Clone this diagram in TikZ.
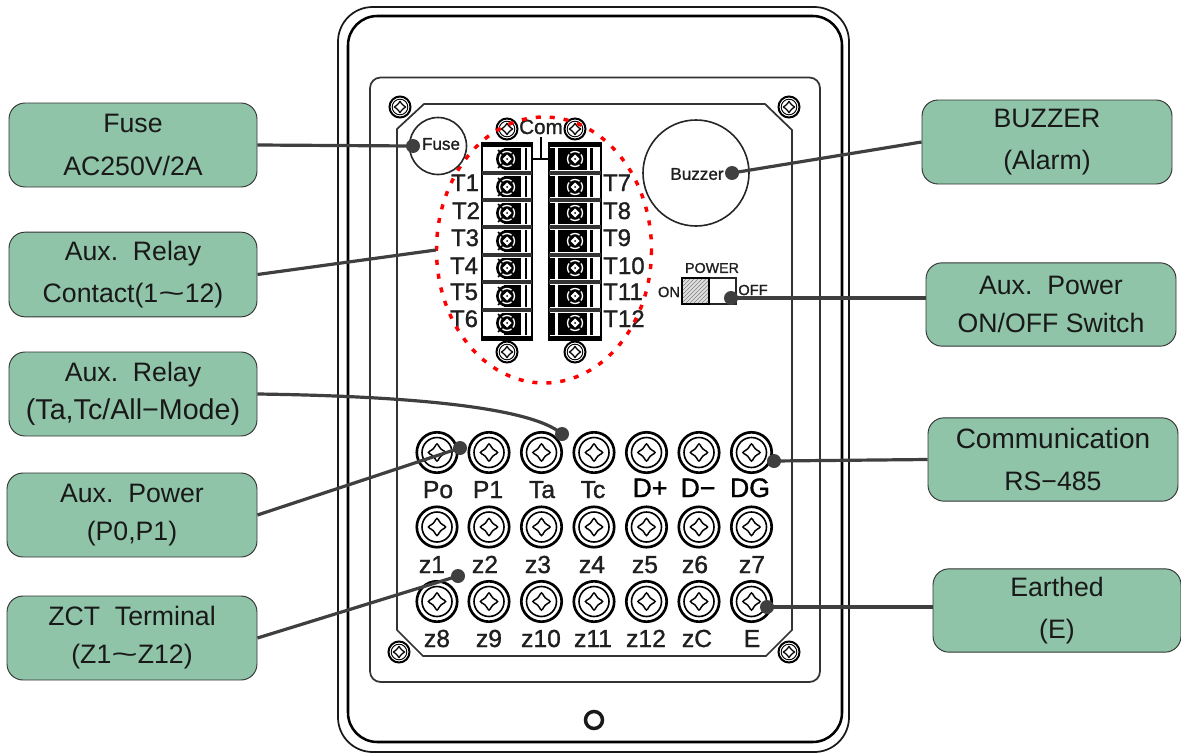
\documentclass[tikz,border=0pt]{standalone}
\usepackage{fontspec}
\usepackage{graphicx}
\setmainfont{Liberation Sans}
\newfontfamily\labfont[FakeBold=1.2]{Liberation Sans}
\usetikzlibrary{patterns}
\newcommand{\wtilde}{\scalebox{1.7}[1]{\textasciitilde}}
\definecolor{boxgreen}{HTML}{8FC4A8}
\definecolor{linedark}{HTML}{3F3F3F}
\tikzset{
  x=0.75pt,y=-0.75pt,
  gbox/.style={draw=black!80,line width=0.7pt,fill=boxgreen,rounded corners=12pt,inner sep=0pt,align=center,
    font=\fontsize{20}{32}\selectfont,text=black!90},
  conn/.style={draw=linedark,line width=2.4pt},
  dot/.style={circle,fill=linedark,inner sep=0pt,minimum size=10.5pt},
  panel/.style={draw=black!80,line width=1.3pt},
  lab/.style={inner sep=0pt,anchor=base,font=\labfont\fontsize{18.5}{19}\selectfont,text=black!88},
  tlab/.style={inner sep=0pt,anchor=base,font=\labfont\fontsize{18}{19}\selectfont,text=black!88},
  dlab/.style={inner sep=0pt,anchor=base,font=\labfont\fontsize{20}{21}\selectfont,text=black},
  slab/.style={inner sep=0pt,text=black!88},
  bigscrew/.pic={
    \draw[line width=2pt,fill=white] (0,0) circle[radius=20.2];
    \draw[line width=1.2pt] (0,0) circle[radius=15];
    \draw[line width=1.1pt,rounded corners=2.6pt] (10.5,0) -- (3.2,3.2) -- (0,10.5) -- (-3.2,3.2)
      -- (-10.5,0) -- (-3.2,-3.2) -- (0,-10.5) -- (3.2,-3.2) -- cycle;
  },
  smallscrew/.pic={
    \draw[line width=1.5pt,fill=white] (0,0) circle[radius=10.5];
    \draw[line width=0.7pt] (0,0) circle[radius=7.8];
    \draw[line width=0.9pt,rounded corners=1.4pt] (6.5,0) -- (2,2) -- (0,6.5) -- (-2,2)
      -- (-6.5,0) -- (-2,-2) -- (0,-6.5) -- (2,-2) -- cycle;
  },
  termscrew/.pic={
    \fill[black] (0,0) circle[radius=11];
    \draw[line width=1pt,white] (0,0) circle[radius=7.5];
    \draw[line width=1.3pt,black] (-9,-9) -- (-3,-3) (9,-9) -- (3,-3) (-9,9) -- (-3,3) (9,9) -- (3,3);
    \fill[white] (4.5,0) -- (0,4.5) -- (-4.5,0) -- (0,-4.5) -- cycle;
    \fill[black] (0,0) circle[radius=1];
  }
}
\begin{document}
\begin{tikzpicture}
\useasboundingbox (0,0) rectangle (1181,753);
% housing
\draw[line width=1.3pt,black!90,rounded corners=26pt] (338,7) rectangle (849,752);
\draw[line width=1.9pt,black,rounded corners=22pt] (348,16) rectangle (842,742);
\draw[panel,rounded corners=8pt] (370,77.5) rectangle (820,682);
\draw[panel] (424,104) -- (765,104) -- (792,130) -- (792,630) -- (766,656) -- (423,656) -- (397,630) -- (397,129) -- cycle;
\draw[line width=2.6pt,black!90] (594,720) circle[radius=8.5];
\foreach \x/\y in {400/107,789/107,399/652,789/652} \pic at (\x,\y) {smallscrew};
% screws at the ends of the terminal blocks
\foreach \x/\y in {507/129,575/129,507/352,575/352} \pic at (\x,\y) {smallscrew};
% terminal blocks
\fill[black] (504,148) rectangle (521,335);
\fill[black] (558,148) rectangle (587,335);
\fill[black] (549,148) rectangle (555,335);
\draw[line width=1.5pt,black] (482,143) rectangle (532,340);
\draw[line width=1.5pt,black] (549,143) rectangle (601,340);
\fill[black] (482,142) rectangle (532,147);
\fill[black] (549,142) rectangle (601,147);
\fill[black] (482,336) rectangle (532,341);
\fill[black] (549,336) rectangle (601,341);
\foreach \x/\w in {526/2.5,591.5/3} \fill[black] (\x-\w/2,148) rectangle (\x+\w/2,335);
\foreach \y in {159,187,213,241,268,296,323} {
  \pic at (507,\y) {termscrew};
  \pic at (575,\y) {termscrew};
}
\foreach \y in {173,200,227,255,282,310} {
  \fill[white] (483,\y-3) rectangle (531,\y+3);
  \fill[white] (550,\y-3) rectangle (600,\y+3);
  \fill[black!80] (482,\y-2) rectangle (532,\y+2);
  \fill[black!80] (549,\y-2) rectangle (601,\y+2);
}
\draw[line width=1.5pt,black] (541,137) -- (541,159) (532,159) -- (549,159);
\node[slab,anchor=base,font=\labfont\fontsize{15.5}{16}\selectfont] (com) at (541,134) {Com};
% T labels
\foreach \i/\t/\x/\y in {1/T1/465/191,2/T2/466/219,3/T3/465/246,4/T4/464/274,5/T5/464/300,6/T6/464/327,
    7/T7/617/191,8/T8/617/219,9/T9/617/246,10/T10/624/274,11/T11/623/300,12/T12/624/327}
  \node[tlab] (t\i) at (\x,\y) {\t};
% red ellipse
\draw[red,line width=2.6pt,dash pattern=on 3.8pt off 6.7pt] (544,250) ellipse[x radius=107.5,y radius=133];
% fuse, buzzer
\draw[line width=1.2pt,black!85] (438,146) circle[radius=28.5];
\node[slab,font=\labfont\fontsize{12.8}{13}\selectfont] (fusetxt) at (441,144) {Fuse};
\draw[line width=1.2pt,black!85] (696,173) circle[radius=53];
\node[slab,font=\labfont\fontsize{12.8}{13}\selectfont] (buzztxt) at (697,174) {Buzzer};
% switch
\fill[gray!25] (682,278) rectangle (709,304);
\fill[pattern=north east lines,pattern color=gray] (682,278) rectangle (709,304);
\draw[line width=1pt,black!85] (682,278) rectangle (736,304);
\draw[line width=1.8pt,black] (682,278) rectangle (709,304);
\node[slab,font=\labfont\fontsize{10.7}{11}\selectfont] (powertxt) at (712,268) {POWER};
\node[slab,font=\labfont\fontsize{11}{12}\selectfont] (ontxt) at (669,292) {ON};
\node[slab,font=\labfont\fontsize{11}{12}\selectfont] (offtxt) at (753,290) {OFF};
% terminal screws
\foreach \x in {437,489,541.5,594,646.5,699,751.5}
  \foreach \y in {452.5,527,601.5}
    \pic at (\x,\y) {bigscrew};
% terminal labels
\foreach \i/\t/\x in {1/Po/438,2/P1/488,3/Ta/542,4/Tc/593}
  \node[lab] (a\i) at (\x,498) {\t};
\foreach \i/\t/\x in {5/D+/650,6/D\textminus/698,7/DG/750}
  \node[dlab] (a\i) at (\x,497) {\t};
\foreach \i/\t/\x in {1/z1/432,2/z2/485,3/z3/538,4/z4/592,5/z5/645,6/z6/695,7/z7/752}
  \node[lab] (b\i) at (\x,573) {\t};
\foreach \i/\t/\x in {1/z8/437,2/z9/489,3/z10/541,4/z11/593,5/z12/646,6/zC/697,7/E/752}
  \node[lab] (c\i) at (\x,647) {\t};
% callout boxes
\node[gbox,minimum width=186pt,minimum height=63pt] (bFuse) at (133,145) {Fuse\\AC250V/2A};
\node[gbox,minimum width=186pt,minimum height=63.5pt] (bCont) at (133,274.5) {Aux.\ \ Relay\\Contact(1\wtilde 12)};
\node[gbox,minimum width=186pt,minimum height=63pt] (bTa) at (133,394) {Aux.\ \ Relay\\[-3.5pt]{\fontsize{21.5}{32}\selectfont (Ta,Tc/All\textminus Mode)}};
\node[gbox,minimum width=187.5pt,minimum height=63pt] (bAux) at (132,515) {Aux.\ \ Power\\[-4pt](P0,P1)};
\node[gbox,minimum width=187.5pt,minimum height=63pt] (bZct) at (132,638) {ZCT\ \ Terminal\\[-3.5pt](Z1\wtilde Z12)};
\node[gbox,minimum width=187.5pt,minimum height=63pt] (bBuz) at (1047,142) {BUZZER\\(Alarm)};
\node[gbox,minimum width=187.5pt,minimum height=62.5pt] (bPow) at (1051,304.5) {Aux.\ \ Power\\[-4pt]ON/OFF\ Switch};
\node[gbox,minimum width=187.5pt,minimum height=62.5pt] (bCom) at (1053,459.5) {{\fontsize{21}{32}\selectfont Communication}\\RS\textminus 485};
\node[gbox,minimum width=186pt,minimum height=62.5pt] (bEar) at (1057,610.5) {Earthed\\(E)};
% connector ends
\node[dot] (dFuse) at (413,146) {};
\node[dot] (dBuz) at (732,173) {};
\node[dot] (dPow) at (731,298) {};
\node[dot] (dTa) at (562,434) {};
\node[dot] (dAux) at (460,448) {};
\node[dot] (dZct) at (458,576) {};
\node[dot] (dCom) at (774,461) {};
\node[dot] (dEar) at (767,607) {};
\coordinate (eCont) at (436,250);
% connectors
\draw[conn] (bFuse.east) -- (dFuse.center);
\draw[conn] (bCont.east) -- (eCont);
\draw[conn] (bTa.east) .. controls (400,396) and (530,406) .. (dTa.center);
\draw[conn] (bAux.east) -- (dAux.center);
\draw[conn] (bZct.east) -- (dZct.center);
\draw[conn] (bBuz.west) -- (dBuz.center);
\draw[conn] (bPow.west |- dPow) -- (dPow.center);
\draw[conn] (bCom.west) -- (dCom.center);
\draw[conn] (bEar.west |- dEar) -- (dEar.center);
\end{tikzpicture}
\end{document}
